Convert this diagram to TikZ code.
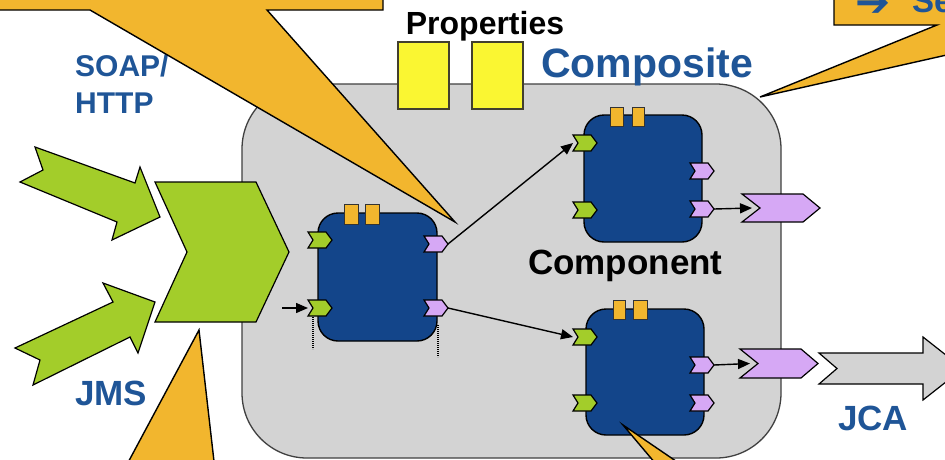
\documentclass[tikz,border=0pt]{standalone}
\usepackage{fontspec}
\setmainfont{Liberation Sans}
\newfontfamily\symfont{DejaVu Sans}
\usetikzlibrary{arrows.meta}

\definecolor{calloutorange}{HTML}{F2B62E}
\definecolor{bindgreen}{HTML}{A3CD2A}
\definecolor{reflilac}{HTML}{D6A8F5}
\definecolor{compblue}{HTML}{13458A}
\definecolor{compgray}{HTML}{D3D3D3}
\definecolor{propyellow}{HTML}{FAF632}
\definecolor{labelblue}{HTML}{1F5597}

% chevron outline drawn inside a named (invisible) node:
% #1 node, #2 fill colour, #3 notch depth, #4 tip depth
\newcommand{\chevshape}[4]{%
  \draw[outl, fill=#2] (#1.north west) -- ([xshift=-#4pt]#1.north east) -- (#1.east)
    -- ([xshift=-#4pt]#1.south east) -- (#1.south west) -- ([xshift=#3pt]#1.west) -- cycle;}

\begin{document}
\begin{tikzpicture}[x=1pt, y=-1pt,
  outl/.style={draw=black, line width=1.2pt, line join=miter},
  holder/.style={inner sep=0pt, outer sep=0pt, draw=none},
  portbox/.style={holder, minimum width=24pt, minimum height=16pt},
  compbox/.style={draw=black, line width=1.4pt, fill=compblue, rounded corners=20pt, inner sep=0pt},
  tab/.style={draw=black!80, line width=1pt, fill=calloutorange},
  propbox/.style={draw=black!70!olive, line width=1.2pt, fill=propyellow},
  conn/.style={draw=black, line width=1.4pt, -{Triangle[length=12pt,width=10pt]}},
  callout/.style={draw=black, line width=1.4pt, fill=calloutorange, line join=miter},
  blue label/.style={text=labelblue, inner sep=0pt, anchor=base west},
  black label/.style={text=black, inner sep=0pt},
  dotmark/.style={line width=2pt, dash pattern=on 1.4pt off 0.6pt}]

\useasboundingbox (0,0) rectangle (945,459);
\clip (0,0) rectangle (945,459);
\fill[white] (0,0) rectangle (945,459);

% composite container
\draw[draw=black!75, line width=1.3pt, fill=compgray, rounded corners=65pt]
  (242,84) rectangle (781,458);

% properties of the composite
\draw[propbox] (398,42) rectangle (449,109);
\draw[propbox] (472,42) rectangle (523,109);
\node[black label, anchor=base, font=\fontsize{32}{38}\selectfont\bfseries] (props) at (485,34) {Properties};
\node[blue label, font=\fontsize{41}{48}\selectfont\bfseries] (composite) at (541,77) {Composite};

% incoming binding arrows
\draw[outl, fill=bindgreen] (35,147) -- (135,183) -- (140,167) -- (160,217) -- (112,240)
  -- (117,222) -- (20,182) -- (43,170) -- cycle;
\draw[outl, fill=bindgreen] (155,302) -- (138,353) -- (130,337) -- (33,385) -- (40,360)
  -- (15,348) -- (113,302) -- (103,283) -- cycle;
\node[blue label, align=left, font=\fontsize{30}{37}\selectfont\bfseries] (soap) at (75,113) {SOAP/\\HTTP};
\node[blue label, font=\fontsize{35}{40}\selectfont\bfseries] (jms) at (75,405) {JMS};

% composite service
\node[holder, minimum width=134pt, minimum height=140pt] (service) at (222,252) {};
\chevshape{service}{bindgreen}{32}{33}

% components
\node[compbox, minimum width=119pt, minimum height=128pt] (compA) at (377.5,277) {};
\node[compbox, minimum width=118pt, minimum height=127pt] (compB) at (643,178.5) {};
\node[compbox, minimum width=118pt, minimum height=126pt] (compC) at (645,372) {};

% component properties
\draw[tab] (344,204) rectangle (358,224);
\draw[tab] (365,204) rectangle (379,224);
\draw[tab] (610,107) rectangle (623,126);
\draw[tab] (632,107) rectangle (644,126);
\draw[tab] (613,300) rectangle (625,319);
\draw[tab] (633,300) rectangle (647,319);

% component services (green) and references (lilac)
\node[portbox] (sA1) at (320,240) {};
\node[portbox] (sA2) at (320,308) {};
\node[portbox] (rA1) at (436,244) {};
\node[portbox] (rA2) at (436,308) {};
\node[portbox] (sB1) at (585,143) {};
\node[portbox] (sB2) at (585,210) {};
\node[portbox] (rB1) at (702,171) {};
\node[portbox] (rB2) at (702,209) {};
\node[portbox] (sC1) at (585,337) {};
\node[portbox] (sC2) at (585,403) {};
\node[portbox] (rC1) at (702,365) {};
\node[portbox] (rC2) at (702,403) {};
\foreach \p in {sA1,sA2,sB1,sB2,sC1,sC2} {\chevshape{\p}{bindgreen}{5}{6}}
\foreach \p in {rA1,rA2,rB1,rB2,rC1,rC2} {\chevshape{\p}{reflilac}{5}{6}}

% composite references
\node[holder, minimum width=78pt, minimum height=28pt] (refB) at (781,208) {};
\node[holder, minimum width=78pt, minimum height=29pt] (refC) at (779,363.5) {};
\chevshape{refB}{reflilac}{18}{17}
\chevshape{refC}{reflilac}{18}{17}

% outgoing JCA binding
\draw[outl, fill=compgray] (819,353) -- (923,353) -- (923,337) -- (963,368.5) -- (923,400)
  -- (923,384) -- (819,384) -- (837,368.5) -- cycle;
\node[blue label, font=\fontsize{35}{40}\selectfont\bfseries] (jca) at (838,430) {JCA};

% wires
\coordinate (feed) at (282,308);
\draw[conn] (feed) -- (sA2.west);
\draw[conn] (rA1.east) -- (sB1.west);
\draw[conn] (rA2.east) -- (sC1.west);
\draw[conn] (rB2.east) -- ([xshift=10pt]refB.west);
\draw[conn] (rC1.east) -- ([xshift=10pt]refC.west);

% dotted markers below component A
\draw[dotmark] (313,317) -- (313,349);
\draw[dotmark] (438,325) -- (438,357);

\node[black label, anchor=base west, font=\fontsize{35}{40}\selectfont\bfseries] (complabel) at (528,274) {Component};

% callouts
\draw[callout] (-10,-10) -- (383,-10) -- (383,10) -- (267,10) -- (455,222) -- (90,10)
  -- (-10,10) -- cycle;
\draw[callout] (834,-10) -- (834,25) -- (937,25) -- (760,97) -- (960,52) -- (960,-10) -- cycle;
\draw[callout] (199,330) -- (215,470) -- (124,470) -- cycle;
\draw[callout] (623,425) -- (689,470) -- (661,470) -- cycle;
\node[inner sep=0pt, anchor=base west, text=labelblue, font=\fontsize{42}{48}\symfont\bfseries]
  (arrowglyph) at (855,16) {➔};
\node[blue label, font=\fontsize{33}{40}\selectfont\bfseries] (se) at (912,12) {Se};
\end{tikzpicture}
\end{document}
